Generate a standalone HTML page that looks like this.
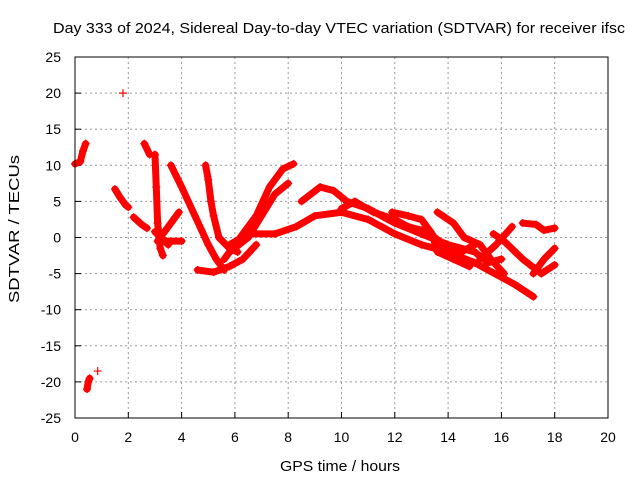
<!DOCTYPE html>
<html><head><meta charset="utf-8"><style>
html,body{margin:0;padding:0;background:#fff}
svg{display:block;font-family:"Liberation Sans",sans-serif}
</style></head><body>
<svg id="c" width="640" height="480" viewBox="0 0 640 480">
<text x="339" y="33" text-anchor="middle" font-size="15" textLength="572" lengthAdjust="spacingAndGlyphs" fill="#000">Day 333 of 2024, Sidereal Day-to-day VTEC variation (SDTVAR) for receiver ifsc</text>
<g id="grid"></g>
<g id="axes"></g>
<g id="data"></g>
<rect x="75" y="57" width="533" height="361" fill="none" stroke="#000" stroke-width="1"/>
<text x="340" y="471" text-anchor="middle" font-size="15" textLength="120" lengthAdjust="spacingAndGlyphs">GPS time / hours</text>
<text transform="translate(19,229) rotate(-90)" text-anchor="middle" font-size="15" textLength="148" lengthAdjust="spacingAndGlyphs">SDTVAR / TECUs</text>
</svg>
<script>
var xTicks=[0,2,4,6,8,10,12,14,16,18,20];
var yTicks=[25,20,15,10,5,0,-5,-10,-15,-20,-25];
var tracksX=[
[0.0,0.2,0.3,0.4],
[1.5,1.7,1.9,2.0],
[2.6,2.8],
[2.2,2.5,2.7],
[3.0,3.05,3.1,3.2,3.3],
[3.1,3.4,3.9],
[3.4,4.0],
[3.0,3.5],
[3.6,4.0,4.5,5.0,5.3,5.6],
[4.9,5.0,5.1,5.2,5.4,5.8,6.1],
[4.6,5.2,5.8,6.3,6.8],
[5.6,6.2,6.8,7.3,7.8,8.2],
[5.8,6.5,7.0,7.5,8.0],
[5.8,6.5,7.5,8.3,9.0,10,11,12,13,14,15,16,16.5,17.2],
[8.5,9.2,9.7,10.2,11,12,13,14,15,15.5,16],
[10,10.5,11.2,12,12.5,13,13.5,14,14.5,15],
[11.9,12.5,13,13.4,13.6,14.2,14.8],
[13.6,14.2,14.6,15.2,15.6,16.1],
[15.7,16.1,16.8,17.5,18.0],
[16.4,15.8,15.2],
[18.0,17.6,17.2],
[16.8,17.3,17.6,18.0],
[0.45,0.5,0.55],
[0.85],
[1.8]
];
var tracksY=[
[10.2,10.5,12,13],
[6.7,5.5,4.5,4.2],
[13,11.5],
[2.8,1.8,1.3],
[11.5,7,2,-1.5,-2.5],
[-0.5,1,3.5],
[-0.5,-0.5],
[0.8,-1],
[10,7,3,-1,-3,-4.5],
[10,8,5,3,0,-1.5,-2],
[-4.5,-4.8,-4,-3,-1],
[-3,0,3,7,9.5,10.2],
[-2,0,3,6,7.5],
[-1,0.5,0.5,1.5,3,3.5,2.5,0.5,-1,-2,-3.5,-5.5,-6.5,-8.2],
[5,7,6.5,5,4,2,0.5,-1,-2,-3.5,-3],
[4,5,3.5,2.5,1.5,1,0,-1.5,-2,-1],
[3.5,3,2.5,0.5,-2,-3,-4],
[3.5,2,0,-1,-3,-5],
[0.5,-0.5,-3,-5,-3.8],
[1.5,-1,-3],
[-1.5,-3,-5],
[2,1.8,1,1.3],
[-21,-20,-19.5],
[-18.5],
[20]
];
var X0=75,X1=608,Y0=418,Y1=57;
function sx(v){return X0+(v-0)/20*(X1-X0);}
function sy(v){return Y0-(v+25)/50*(Y0-Y1);}
var NS='http://www.w3.org/2000/svg';
function mk(tag,attrs,parent){var e=document.createElementNS(NS,tag);for(var k in attrs)e.setAttribute(k,attrs[k]);parent.appendChild(e);return e;}
var grid=document.getElementById('grid'),axes=document.getElementById('axes'),data=document.getElementById('data');
xTicks.forEach(function(t){
  var x=sx(t);
  if(t>0&&t<20){var g=mk('line',{x1:x,x2:x,y1:Y1,y2:Y0,stroke:'#999','stroke-dasharray':'2,3','stroke-width':1},grid);
  
  }
  var tk=mk('line',{x1:x,x2:x,y1:Y0,y2:Y0-6,stroke:'#000'},axes);
  
  
  var tx=mk('text',{x:x,y:Y0+24,'text-anchor':'middle','font-size':14},axes);
  tx.textContent=t;
  
  
});
yTicks.forEach(function(t){
  var y=sy(t);
  if(t>-25&&t<25){var g=mk('line',{x1:X0,x2:X1,y1:y,y2:y,stroke:'#999','stroke-dasharray':'2,3','stroke-width':1},grid);
  
  }
  var tk=mk('line',{x1:X0,x2:X0+6,y1:y,y2:y,stroke:'#000'},axes);
  
  
  var tx=mk('text',{x:X0-14,y:y+5,'text-anchor':'end','font-size':14},axes);
  tx.textContent=t;
  
  
});
tracksX.forEach(function(xs,i){
  var ys=tracksY[i];
  var pts=xs.map(function(v,j){return sx(v)+','+sy(ys[j]);}).join(' ');
  if(xs.length>1){
    var pl=mk('polyline',{points:pts,fill:'none',stroke:'#f00','stroke-width':7,'stroke-linejoin':'round','stroke-linecap':'round'},data);
    
    
  }
  xs.forEach(function(v,j){
    var x=sx(v),y=sy(ys[j]);
    var p=mk('path',{d:'M'+(x-4)+' '+y+'H'+(x+4)+'M'+x+' '+(y-4)+'V'+(y+4),stroke:'#f00','stroke-width':1.2},data);
    
    
  });
});
</script>
</body></html>
